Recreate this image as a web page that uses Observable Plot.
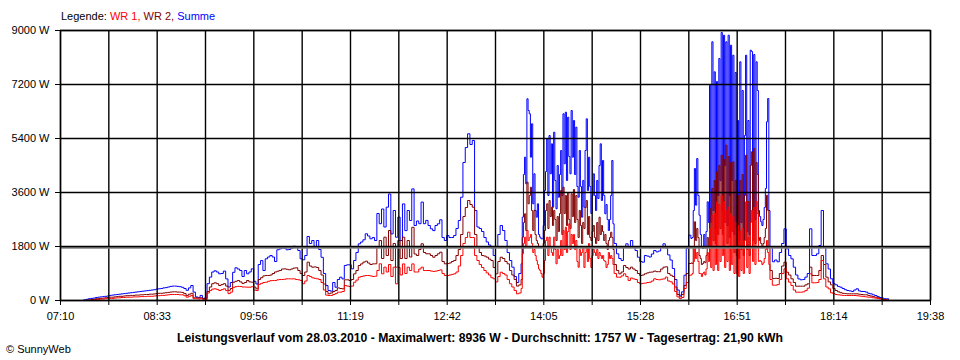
<!DOCTYPE html>
<html>
<head>
<meta charset="utf-8">
<script src="https://cdn.jsdelivr.net/npm/d3@7"></script>
<script src="https://cdn.jsdelivr.net/npm/@observablehq/plot@0.6"></script>
<style>
  html, body { margin: 0; padding: 0; background: #fff; }
  #chart svg { display: block; }
</style>
</head>
<body>
<div id="chart"></div>
<script>
// ---------- data ----------
const times = [
  // 07:30 - 09:14
  "07:30","07:32","07:34","07:36","07:38","07:40","07:42","07:44","07:46","07:48","07:50","07:52","07:54","07:56","07:58","08:00","08:02","08:04","08:06","08:08","08:10","08:12","08:14","08:16","08:18","08:20","08:22","08:24","08:26","08:28","08:30","08:32","08:34","08:36","08:38","08:40","08:42","08:44","08:46","08:48","08:50","08:52","08:54","08:56","08:58","09:00","09:02","09:04","09:06","09:08","09:10","09:12","09:14",
  // 09:16 - 11:40
  "09:16","09:18","09:20","09:22","09:24","09:26","09:28","09:30","09:32","09:34","09:36","09:38","09:40","09:42","09:44","09:46","09:48","09:50","09:52","09:54",
  "09:56","09:58","10:00","10:02","10:04","10:06","10:08","10:10","10:12","10:14","10:16","10:18","10:20","10:22","10:24","10:26","10:28","10:30","10:32","10:34",
  "10:36","10:38","10:40","10:42","10:44","10:46","10:48","10:50","10:52","10:54","10:56","10:58","11:00","11:02","11:04","11:06","11:08","11:10","11:12","11:14",
  "11:16","11:18","11:20","11:22","11:24","11:26","11:28","11:30","11:32","11:34","11:36","11:38","11:40",
  // 11:42 - 12:12
  "11:42","11:44","11:46","11:48","11:50","11:52","11:54","11:56","11:58","12:00","12:02","12:04","12:06","12:08","12:10","12:12",
  // 12:14 - 13:46
  "12:14","12:16","12:18","12:20","12:22","12:24","12:26","12:28","12:30","12:32","12:34","12:36","12:38","12:40","12:42","12:44","12:46","12:48","12:50","12:52",
  "12:54","12:56","12:58","13:00","13:02","13:04","13:06","13:08","13:10","13:12","13:14","13:16","13:18","13:20","13:22","13:24","13:26","13:28","13:30","13:32",
  "13:34","13:36","13:38","13:40","13:42","13:44","13:46",
  // 13:47 - 15:06 (1 min)
  "13:47","13:48","13:49","13:50","13:51","13:52","13:53","13:54","13:55","13:56","13:57","13:58","13:59",
  "14:00","14:01","14:02","14:03","14:04","14:05","14:06","14:07","14:08","14:09",
  "14:10","14:11","14:12","14:13","14:14","14:15","14:16","14:17","14:18","14:19",
  "14:20","14:21","14:22","14:23","14:24","14:25","14:26","14:27","14:28","14:29",
  "14:30","14:31","14:32","14:33","14:34","14:35","14:36","14:37","14:38","14:39",
  "14:40","14:41","14:42","14:43","14:44","14:45","14:46","14:47","14:48","14:49",
  "14:50","14:51","14:52","14:53","14:54","14:55","14:56","14:57","14:58","14:59",
  "15:00","15:01","15:02","15:03","15:04","15:05","15:06",
  // 15:08 - 16:12
  "15:08","15:10","15:12","15:14","15:16","15:18","15:20","15:22","15:24","15:26","15:28","15:30","15:32","15:34","15:36","15:38","15:40","15:42","15:44","15:46",
  "15:48","15:50","15:52","15:54","15:56","15:58","16:00","16:02","16:04","16:06","16:08","16:10","16:12",
  // 16:13 - 17:20 (1 min)
  "16:13","16:14","16:15","16:16","16:17","16:18","16:19","16:20","16:21","16:22",
  "16:23","16:24","16:25","16:26","16:27","16:28","16:29","16:30","16:31","16:32",
  "16:33","16:34","16:35","16:36","16:37","16:38","16:39","16:40","16:41","16:42",
  "16:43","16:44","16:45","16:46","16:47","16:48","16:49","16:50","16:51","16:52",
  "16:53","16:54","16:55","16:56","16:57","16:58","16:59","17:00","17:01","17:02",
  "17:03","17:04","17:05","17:06","17:07","17:08","17:09","17:10","17:11","17:12",
  "17:13","17:14","17:15","17:16","17:17","17:18","17:19","17:20",
  // 17:22 - 19:02
  "17:22","17:24","17:26","17:28","17:30","17:32","17:34","17:36","17:38","17:40","17:42","17:44","17:46","17:48","17:50","17:52","17:54","17:56","17:58","18:00",
  "18:02","18:04","18:06","18:08","18:10","18:12","18:14","18:16","18:18","18:20","18:22","18:24","18:26","18:28","18:30","18:32","18:34","18:36","18:38","18:40",
  "18:42","18:44","18:46","18:48","18:50","18:52","18:54","18:56","18:58","19:00","19:02"
];

// Summe (blue), W
const summe = [
  20,40,60,70,80,100,110,120,130,140,150,170,180,190,200,210,220,230,240,250,260,270,280,290,300,310,320,330,340,350,360,380,390,400,420,430,450,470,480,480,470,460,440,400,340,420,500,280,120,90,170,70,90,
  560,780,950,990,950,890,900,980,720,450,600,940,1090,1050,1000,800,1000,890,950,1055,
  640,550,1200,1330,1000,1390,1450,1500,1450,1300,1690,1720,1743,1740,1690,1700,1743,1810,1780,1667,
  1390,1357,1500,2133,1900,2000,1777,2000,1700,1440,900,500,333,310,600,443,700,777,720,1167,
  1190,1190,1055,1333,1600,1890,1950,2023,2223,2150,2057,2100,2000,
  2900,2560,3050,2450,3110,3550,2220,3000,2110,2780,2000,3220,2330,3000,2667,3720,
  2500,2650,2560,3280,2560,2670,2500,2390,2330,2500,2557,2690,2100,2000,2167,2100,2100,2167,2400,2667,
  3443,4600,5100,5557,5200,5333,3000,2450,2400,2300,2100,1950,1850,1750,1500,1777,2200,2500,2333,2000,
  1600,1333,1110,800,600,900,1223,
  2777,4200,4777,3890,6723,6333,6223,4777,5890,3223,4223,3000,2777,
  3223,2200,2110,2057,2057,2500,3667,4300,5390,3500,
  5500,4223,5223,3110,5610,4000,3057,4500,3443,4200,
  5000,3500,6223,4557,6277,4000,6110,4800,4223,6333,
  4777,6000,4200,5777,3800,3443,5000,3800,2777,4000,
  3110,5000,6057,3667,4777,3800,2900,3500,4223,3500,
  3000,4000,3400,4500,5223,3333,4667,3500,2890,3200,
  2700,2333,2700,3500,4667,2557,1900,
  1557,1400,1333,1800,1890,1800,2000,1800,1667,1443,1300,1277,1500,1480,1450,1550,1667,1620,1650,1800,
  1890,1750,1520,1350,1067,700,350,177,290,843,1733,2177,2067,
  2100,3000,4400,3177,4733,3500,2843,2200,1800,1733,
  2200,1750,2300,3290,2600,7177,2600,8623,3000,7623,
  2400,7300,3500,8067,4000,8936,3000,8843,4500,8623,
  2500,8843,3500,8510,4000,8177,2200,7600,2400,6000,
  2000,7957,2600,7000,2000,5500,8177,2300,6000,2200,
  8343,8300,3000,8200,2700,7957,7000,3000,2800,2623,
  2500,2700,3100,3733,5957,6733,3000,1800,
  1290,1350,1290,1600,1900,2390,1723,1500,1390,1110,850,720,690,700,780,900,2390,1500,1500,1557,
  1833,3000,1800,1223,1050,723,560,523,470,443,400,360,333,320,300,350,390,320,300,300,
  280,240,223,190,167,130,100,77,60,57,0
];

// WR 2 (dark red), W
const wr2 = [
  0,10,20,30,40,60,60,70,80,90,100,110,110,120,130,140,140,150,160,160,170,170,180,180,190,190,200,200,210,210,220,230,240,240,250,260,270,280,290,290,280,280,270,230,170,210,240,90,90,90,90,70,60,
  300,450,560,590,560,500,530,560,480,340,400,610,640,667,620,570,600,667,620,610,
  450,390,700,760,820,833,833,850,900,950,977,1000,1050,1055,1040,1023,1050,1080,1090,1000,
  900,833,950,1277,1150,1110,1120,1100,1000,850,550,300,223,250,300,333,420,400,390,690,
  690,667,700,890,1000,1167,1220,1280,1310,1250,1200,1220,1223,
  1777,2000,1400,2110,1500,2333,1333,1900,1110,2000,1400,2110,1400,2000,1450,2440,
  1550,1500,1700,1890,1600,1557,1557,1500,1443,1500,1557,1610,1300,1223,1230,1250,1300,1333,1500,1700,
  2200,2800,3100,3333,3200,3110,2200,1800,1600,1500,1480,1443,1380,1333,1100,890,1300,1443,1400,1300,
  1223,1000,850,700,480,520,700,
  2110,2600,2890,2333,3943,3223,3500,3777,3000,2333,3000,2200,2000,
  1900,1800,1777,1800,1777,1900,2333,3000,3223,2400,
  3333,2800,3110,2500,3000,2700,2000,2800,2300,2900,
  3667,2200,3777,2900,3500,2500,3600,2700,2400,3557,
  2800,3700,2600,3500,2700,2100,3000,2500,1900,2600,
  2400,3100,3333,2200,2800,2100,2000,2300,2500,2100,
  1900,2600,2000,2777,2200,2500,2300,2000,2200,1900,
  1700,2000,2100,2277,2100,1700,1200,
  1000,890,950,1167,1100,1050,1110,1050,1000,900,833,850,890,920,943,950,980,960,960,1050,
  1110,1123,900,843,800,450,200,123,200,500,900,1233,1250,
  1233,1800,2623,2000,2400,2100,1500,1400,1200,1233,
  1300,1260,1500,2100,1800,3067,1800,3733,2000,4000,
  1900,4290,2200,4500,2400,4843,2200,4700,2600,5177,
  1900,4800,2100,4600,2300,4623,1600,4000,1500,3500,
  1400,4000,1700,4200,1500,3500,4843,1700,3300,1500,
  4500,4957,2000,5067,1900,4600,4200,2000,2100,1900,
  1800,1900,2100,2400,3510,3000,1800,1000,
  733,740,733,900,1150,1277,943,850,723,600,477,477,477,477,520,557,1110,833,833,833,
  1000,1500,1200,777,620,523,400,333,290,260,240,230,223,223,223,223,223,210,200,190,
  190,170,150,130,110,90,60,40,33,20,0
];

// WR 1 (red), W
const wr1 = [
  0,0,0,10,20,30,40,50,50,60,60,70,70,80,90,90,100,100,110,110,110,120,120,120,130,130,130,140,140,140,150,160,160,170,170,180,190,200,200,200,200,190,190,160,110,140,170,60,60,50,60,40,20,
  250,330,380,390,370,333,360,390,330,230,280,440,460,470,467,450,450,443,443,460,
  350,333,540,570,600,610,640,660,667,667,690,700,700,710,723,723,720,723,700,690,
  667,560,650,833,800,757,740,723,700,600,350,180,167,167,200,230,277,277,300,500,
  480,467,480,610,680,777,800,820,833,833,820,800,810,
  1000,1223,890,1110,950,1200,800,1110,557,1100,850,1220,900,1110,1000,1220,
  950,950,1050,1110,1000,1000,1000,980,970,980,1000,1020,900,833,833,850,870,890,950,1150,
  1500,1900,2100,2277,2100,2100,1500,1333,1200,1100,1000,920,850,760,723,620,800,943,900,850,
  700,557,450,333,223,250,400,
  1557,1900,2110,1800,2333,2000,2100,2200,1900,1600,1700,1500,1333,
  1200,1050,1000,900,777,900,1333,2000,2110,1500,
  2110,1800,1600,1500,2110,1700,1223,1700,1400,1500,
  2000,1500,2333,1700,2443,1600,2300,2557,1700,2200,
  1900,2200,1700,2000,1300,1110,1700,1500,1600,1800,
  1100,1600,1800,1300,1900,1400,1100,1500,1700,1600,
  1500,1700,1400,1600,1500,1400,1500,1333,1300,1100,
  1200,1600,1400,1500,1400,1200,900,
  777,777,820,890,800,667,750,720,700,600,557,570,580,600,610,650,723,700,690,710,
  720,780,650,623,550,300,120,67,100,400,600,843,850,
  900,1300,1733,1400,1600,1300,900,900,800,900,
  950,850,1050,1600,1300,2400,1100,2843,1000,2900,
  1200,3290,1000,3200,1300,3510,1500,3300,1100,3000,
  1300,3100,1000,2900,1200,2800,900,2600,900,2500,
  800,2300,1000,2400,900,2000,3290,1100,2100,900,
  2600,3000,1300,3100,1200,3300,2900,1300,1333,1300,
  1200,1250,1400,1700,2000,1600,1200,700,
  510,510,530,700,900,1055,723,610,500,350,277,277,277,290,330,410,890,590,590,600,
  700,1333,723,450,390,257,230,200,190,180,170,167,167,167,167,167,160,150,140,130,
  120,110,110,90,80,70,57,50,30,10,0
];

// axis grid positions (every half label interval) and tick labels
const gridTimes = ["07:10:00","07:51:33","08:33:07","09:14:40","09:56:13","10:37:47","11:19:20","12:00:53","12:42:27","13:24:00",
                   "14:05:33","14:47:07","15:28:40","16:10:13","16:51:47","17:33:20","18:14:53","18:56:27","19:38:00"];
const xTickLabels = ["07:10","08:33","09:56","11:19","12:42","14:05","15:28","16:51","18:14","19:38"];
const yTicks = [0, 1800, 3600, 5400, 7200, 9000];
const average = 1757;

const legendParts = [["Legende: ", "#000000"], ["WR 1, ", "#ff0000"], ["WR 2, ", "#800000"], ["Summe", "#0000ff"]];
const caption = "Leistungsverlauf vom 28.03.2010 - Maximalwert: 8936 W - Durchschnitt: 1757 W - Tagesertrag: 21,90 kWh";
const credit = "© SunnyWeb";

// ---------- build ----------
function parseT(s) {
  const [h, m, sec] = s.split(":").map(Number);
  return new Date(2010, 2, 28, h, m, sec || 0);
}
if (times.length !== summe.length || times.length !== wr1.length || times.length !== wr2.length) {
  throw new Error(`length mismatch: times ${times.length}, summe ${summe.length}, wr1 ${wr1.length}, wr2 ${wr2.length}`);
}
const rows = times.map((t, i) => ({time: parseT(t), summe: summe[i], wr1: wr1[i], wr2: wr2[i]}));
const gridDates = gridTimes.map(parseT);

const font = "'Liberation Sans', Arial, sans-serif";
const lineOpts = {x: "time", curve: "step-after", strokeWidth: 1};

const svg = Plot.plot({
  width: 960,
  height: 360,
  marginLeft: 60,
  marginRight: 30,
  marginTop: 30,
  marginBottom: 60,
  style: {fontFamily: font, fontSize: "11px", color: "#000", background: "#fff", overflow: "visible"},
  x: {type: "time", domain: [gridDates[0], gridDates[gridDates.length - 1]]},
  y: {domain: [0, 9000]},
  marks: [
    Plot.lineY(rows, {...lineOpts, y: "summe", stroke: "#0000ff"}),
    Plot.lineY(rows, {...lineOpts, y: "wr2", stroke: "#800000"}),
    Plot.lineY(rows, {...lineOpts, y: "wr1", stroke: "#ff0000"}),
    Plot.ruleX(gridDates, {stroke: "#000", strokeWidth: 1.4}),
    Plot.ruleY([average], {stroke: "#808080", strokeWidth: 2}),
    Plot.ruleY(yTicks, {stroke: "#000", strokeWidth: 1.4}),
    Plot.frame({stroke: "#000", strokeWidth: 1.4}),
    Plot.axisX({
      ticks: gridDates, tickSize: 5, tickPadding: 7, label: null,
      tickFormat: d => {
        const i = gridDates.findIndex(g => +g === +d);
        return i % 2 ? "" : xTickLabels[i / 2];
      }
    }),
    Plot.axisY({ticks: yTicks, tickSize: 5, tickPadding: 6, label: null, tickFormat: d => `${d} W`})
  ]
});

const sel = d3.select(svg);
const legend = sel.append("text")
  .attr("x", 61).attr("y", 20)
  .attr("text-anchor", "start")
  .attr("font-family", font).attr("font-size", 11);
legendParts.forEach(([txt, col]) => legend.append("tspan").attr("fill", col).text(txt));

sel.append("text")
  .attr("x", 480).attr("y", 342)
  .attr("text-anchor", "middle")
  .attr("font-family", font).attr("font-size", 12.2).attr("font-weight", "bold")
  .attr("fill", "#000")
  .text(caption);

sel.append("text")
  .attr("x", 6).attr("y", 353)
  .attr("text-anchor", "start")
  .attr("font-family", font).attr("font-size", 11)
  .attr("fill", "#000")
  .text(credit);

document.getElementById("chart").appendChild(svg);
</script>
</body>
</html>
